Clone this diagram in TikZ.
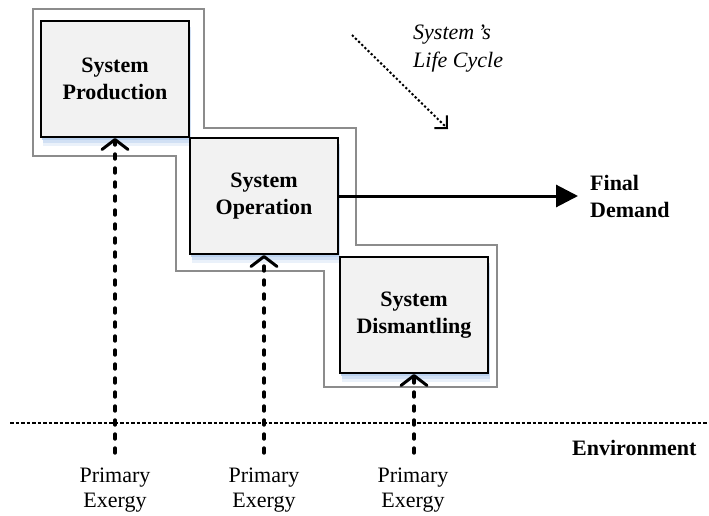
\documentclass[tikz,border=0pt]{standalone}
\usepackage{fontspec}
\setmainfont{Liberation Serif}
\usetikzlibrary{arrows.meta,shadows}

\definecolor{boxfill}{HTML}{F2F2F2}
\definecolor{frame}{HTML}{8C8C8C}
\definecolor{glow}{HTML}{B9D0EE}

\begin{document}
\begin{tikzpicture}[x=1pt,y=-1pt,
  stage/.style={draw=black, line width=2pt, fill=boxfill,
    minimum width=148pt, minimum height=116pt, inner sep=0pt,
    align=center, font=\bfseries\fontsize{22}{27}\selectfont,
    general shadow={fill=glow, opacity=0.3, shadow xshift=2pt, shadow yshift=-9pt},
    general shadow={fill=glow, opacity=0.5, shadow xshift=1.5pt, shadow yshift=-6pt},
    general shadow={fill=glow, opacity=0.9, shadow xshift=1pt, shadow yshift=-3pt}},
  label/.style={inner sep=0pt, align=center, font=\fontsize{22}{25}\selectfont},
  bold/.style={inner sep=0pt, align=left, font=\bfseries\fontsize{22}{27}\selectfont},
  feed/.style={line width=3.4pt, dash pattern=on 5pt off 9pt, line cap=round,
    -{Straight Barb[length=10pt, width=26pt, line width=3pt, line cap=round, line join=round]}},
  output/.style={line width=3pt, -{Triangle[length=22pt, width=22pt]}},
  border/.style={line width=1.3pt, dash pattern=on 3.5pt off 2pt},
  cycle/.style={line width=2pt, dash pattern=on 2.2pt off 2.2pt,
    -{Straight Barb[length=9pt, width=18pt, line cap=butt, line join=miter]}},
]
\useasboundingbox (0,0) rectangle (709,516);

% stepped envelope around the three life-cycle stages
\draw[frame, line width=1.5pt]
  (33,9) -- (204,9) -- (204,128) -- (356,128) -- (356,245) -- (497,245)
  -- (497,387) -- (324,387) -- (324,271) -- (176,271) -- (176,156)
  -- (33,156) -- cycle;

% life-cycle stages
\node[stage] (prod) at (115,79) {System\\Production};
\node[stage] (oper) at (264,196) {System\\Operation};
\node[stage] (dism) at (414,315) {System\\Dismantling};

% environment boundary
\coordinate (envL) at (10,423);
\coordinate (envR) at (709,423);
\draw[border] (envL) -- (envR);
\node[bold, anchor=base west] (env) at (572,455) {Environment};

% primary exergy inputs
\node[label] (px1) at (115,490) {Primary\\Exergy};
\node[label] (px2) at (264,490) {Primary\\Exergy};
\node[label] (px3) at (413,490) {Primary\\Exergy};
\coordinate (in1) at (115,453);
\coordinate (in2) at (264,453);
\coordinate (in3) at (414,453);
\draw[feed] (in1) -- (prod.south);
\draw[feed] (in2) -- (oper.south);
\draw[feed] (in3) -- (dism.south);

% final demand output
\node[bold, anchor=west] (fd) at (590,196) {Final\\Demand};
\draw[output] (oper.east) -- ([xshift=-12pt]oper.east -| fd.west);

% life-cycle direction
\node[inner sep=0pt, align=left, anchor=west,
  font=\itshape\fontsize{22}{28}\selectfont] (lc) at (413,49) {System\,’s\\Life Cycle};
\coordinate (lcA) at (352,35);
\coordinate (lcB) at (448,129);
\draw[cycle] (lcA) -- (lcB);
\end{tikzpicture}
\end{document}
